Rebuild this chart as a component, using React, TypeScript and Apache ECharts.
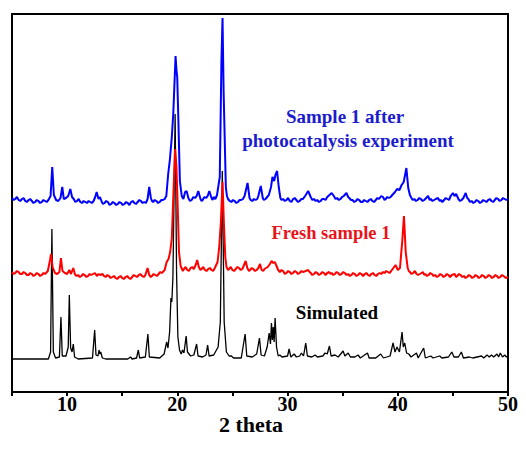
import React, { useEffect, useRef } from "react";
import * as echarts from "echarts";

// 2-theta axis
const xMin = 5;
const xMax = 50;
const xTickLabels = ["10", "20", "30", "40", "50"];

// Traces: [2theta, offset intensity]
const simulated: number[][] = [
  [5.0,33],[8.3,33],[8.5,40],[8.62,163],[8.75,40],[8.95,34],[9.3,35],[9.44,75],[9.56,36],[9.9,36],[10.1,45],[10.2,97],[10.32,44],[10.45,40],[10.56,48],[10.68,35],[11.0,33],[12.3,34],[12.5,62],[12.62,37],[12.8,36],[12.9,42],[12.98,38],[13.05,40],[13.2,34],[13.5,33],[15.5,33],[15.76,35],[15.9,33],[16.3,34],[16.46,42],[16.58,34],[17.1,35],[17.33,58],[17.46,35],[18.4,34],[18.8,38],[19.03,50],[19.15,44],[19.3,60],[19.42,94],[19.5,90],[19.6,115],[19.8,278],[19.93,120],[20.05,55],[20.2,42],[20.35,38],[20.47,42],[20.6,39],[20.8,56],[20.92,40],[21.2,36],[21.5,37],[21.75,48],[21.88,36],[22.3,35],[22.6,37],[22.75,47],[22.88,36],[23.3,37],[23.7,45],[23.9,70],[24.08,221],[24.25,70],[24.45,40],[24.7,36],[24.9,36],[25.1,34],[25.8,34],[26.15,58],[26.3,36],[26.8,35],[27.2,38],[27.45,54],[27.6,37],[27.9,36],[28.15,45],[28.33,59],[28.45,48],[28.54,69],[28.62,52],[28.7,65],[28.78,50],[28.87,74],[29.0,45],[29.15,36],[29.3,37],[29.5,35],[30.0,36],[30.14,43],[30.3,35],[30.6,38],[30.8,35],[31.1,36],[31.26,39],[31.45,36],[31.65,49],[31.8,36],[32.2,35],[32.5,37],[32.7,35],[33.2,36],[33.4,39],[33.6,38],[33.8,46],[33.95,36],[34.3,37],[34.6,35],[35.04,41],[35.2,36],[35.5,39],[35.7,35],[36.1,35],[36.4,37],[36.6,34],[37.25,39],[37.4,34],[38.0,34],[38.45,38],[38.7,34],[39.3,36],[39.57,49],[39.75,40],[39.93,45],[40.15,40],[40.39,60],[40.5,45],[40.63,49],[40.8,39],[41.0,38],[41.2,35],[41.7,39],[41.85,34],[42.35,44],[42.5,34],[43.0,36],[43.2,34],[43.8,36],[44.0,34],[44.6,35],[44.9,40],[45.1,35],[45.5,35],[45.77,40],[45.95,34],[46.5,35],[46.8,34],[47.6,36],[47.8,34],[48.1,37],[48.3,35],[48.5,37],[48.7,35],[49.0,38],[49.15,35],[49.3,39],[49.5,35],[49.7,37],[49.85,35],[50.0,36]
];

const fresh: number[][] = [
  [5.0,120],[5.15,118],[5.3,119],[5.45,121],[5.6,120],[5.75,118],[5.9,118],[6.05,120],[6.2,119],[6.35,117],[6.5,117],[6.65,119],[6.8,118],[6.95,116],[7.1,117],[7.25,119],[7.4,118],[7.55,116],[7.7,117],[7.85,119],[8.0,118],[8.25,121],[8.45,132],[8.54,138],[8.68,125],[8.9,119],[9.1,118],[9.3,120],[9.44,134],[9.58,121],[9.8,119],[10.0,118],[10.2,122],[10.35,118],[10.56,124],[10.7,118],[10.85,116],[11.0,117],[11.15,115],[11.3,116],[11.45,118],[11.6,117],[11.75,115],[11.9,116],[12.05,118],[12.2,117],[12.52,119],[12.7,116],[12.85,118],[13.0,117],[13.2,118],[13.35,116],[13.5,115],[13.65,117],[13.8,116],[13.95,114],[14.1,115],[14.25,116],[14.4,114],[14.55,113],[14.7,115],[14.85,116],[15.0,114],[15.15,113],[15.3,115],[15.45,116],[15.6,114],[15.75,113],[15.9,115],[16.05,117],[16.2,116],[16.35,115],[16.5,117],[16.65,118],[16.8,116],[16.95,115],[17.1,117],[17.3,124],[17.45,117],[17.6,115],[17.7,116],[17.85,118],[18.0,117],[18.15,116],[18.3,118],[18.45,120],[18.6,119],[18.85,122],[19.03,130],[19.2,133],[19.35,140],[19.5,154],[19.65,200],[19.8,243],[19.92,225],[20.02,190],[20.15,140],[20.3,126],[20.38,124],[20.5,121],[20.6,123],[20.75,125],[20.9,122],[21.05,121],[21.2,124],[21.35,125],[21.5,123],[21.7,128],[21.8,132],[21.95,125],[22.1,122],[22.2,123],[22.35,125],[22.5,122],[22.65,121],[22.8,123],[22.95,124],[23.1,122],[23.25,121],[23.4,124],[23.65,130],[23.8,145],[23.95,170],[24.1,210],[24.22,170],[24.35,135],[24.46,125],[24.6,122],[24.7,123],[24.85,125],[25.0,122],[25.15,121],[25.3,123],[25.45,125],[25.6,124],[25.75,122],[25.9,123],[26.05,127],[26.2,131],[26.35,124],[26.5,121],[26.6,122],[26.75,124],[26.9,123],[27.05,121],[27.2,122],[27.35,124],[27.5,128],[27.65,122],[27.8,121],[27.9,123],[28.05,124],[28.2,125],[28.4,128],[28.55,131],[28.7,129],[28.84,130],[29.0,126],[29.15,122],[29.3,120],[29.45,122],[29.6,121],[29.75,118],[29.9,119],[30.05,121],[30.2,120],[30.35,118],[30.5,119],[30.65,121],[30.8,120],[30.95,118],[31.1,119],[31.25,121],[31.4,120],[31.65,121],[31.87,122],[32.0,120],[32.1,119],[32.25,117],[32.4,118],[32.55,120],[32.7,119],[32.85,117],[33.0,118],[33.15,120],[33.3,119],[33.45,117],[33.6,119],[33.77,120],[33.9,118],[34.0,119],[34.15,117],[34.3,118],[34.45,120],[34.6,119],[34.75,117],[34.9,118],[35.05,120],[35.2,119],[35.35,117],[35.5,118],[35.65,116],[35.8,117],[35.95,119],[36.1,118],[36.25,116],[36.4,117],[36.55,119],[36.7,118],[36.85,116],[37.0,118],[37.15,119],[37.3,117],[37.45,116],[37.6,118],[37.75,119],[37.9,117],[38.05,116],[38.2,118],[38.35,119],[38.5,118],[38.65,120],[38.8,119],[38.95,121],[39.1,120],[39.25,119],[39.4,121],[39.6,124],[39.8,127],[40.0,122],[40.2,124],[40.4,150],[40.56,176],[40.72,140],[40.9,124],[41.0,121],[41.1,120],[41.25,118],[41.4,119],[41.55,121],[41.7,118],[41.85,117],[42.0,118],[42.15,119],[42.29,120],[42.4,117],[42.5,118],[42.65,116],[42.8,117],[42.95,119],[43.1,118],[43.25,116],[43.4,117],[43.55,115],[43.7,116],[43.85,118],[44.0,117],[44.15,115],[44.3,116],[44.45,118],[44.6,117],[44.75,115],[44.9,117],[45.16,118],[45.3,115],[45.4,116],[45.55,118],[45.7,117],[45.85,115],[46.0,116],[46.15,114],[46.3,115],[46.45,117],[46.6,116],[46.75,114],[46.9,115],[47.05,117],[47.2,116],[47.35,114],[47.5,115],[47.65,117],[47.8,116],[47.95,114],[48.1,115],[48.25,117],[48.4,116],[48.55,114],[48.7,115],[48.85,117],[49.0,116],[49.15,114],[49.3,115],[49.45,117],[49.6,116],[49.8,114],[50.0,115]
];

const afterPhoto: number[][] = [
  [5.0,194],[5.15,192],[5.3,193],[5.45,195],[5.6,192],[5.75,191],[5.9,193],[6.05,194],[6.2,191],[6.35,190],[6.5,192],[6.65,193],[6.8,191],[6.95,189],[7.1,190],[7.25,192],[7.4,191],[7.55,189],[7.7,190],[7.85,192],[8.0,191],[8.15,190],[8.3,192],[8.5,196],[8.65,225],[8.8,197],[9.0,192],[9.2,191],[9.4,194],[9.56,205],[9.7,193],[9.9,194],[10.1,196],[10.29,203],[10.45,195],[10.6,193],[10.75,190],[10.9,191],[11.05,193],[11.2,190],[11.35,189],[11.5,191],[11.65,190],[11.8,189],[11.95,191],[12.1,190],[12.25,189],[12.4,191],[12.55,195],[12.68,200],[12.85,193],[12.98,195],[13.15,190],[13.25,188],[13.4,189],[13.55,191],[13.7,190],[13.85,187],[14.0,188],[14.15,190],[14.3,189],[14.45,187],[14.6,188],[14.75,190],[14.9,189],[15.05,187],[15.2,188],[15.35,190],[15.5,189],[15.65,187],[15.8,190],[15.95,191],[16.1,189],[16.25,188],[16.4,190],[16.55,192],[16.7,191],[16.85,189],[17.0,190],[17.15,189],[17.3,193],[17.45,205],[17.6,194],[17.7,191],[17.8,190],[17.95,192],[18.1,191],[18.25,189],[18.4,190],[18.55,192],[18.7,192],[18.85,193],[19.0,196],[19.17,218],[19.32,232],[19.5,255],[19.63,278],[19.84,336],[19.92,322],[19.99,315],[20.08,278],[20.23,211],[20.4,196],[20.55,193],[20.7,200],[20.84,201],[21.0,194],[21.15,191],[21.3,192],[21.45,195],[21.6,194],[21.75,196],[21.9,201],[22.1,193],[22.2,191],[22.3,192],[22.45,195],[22.6,194],[22.75,196],[22.9,201],[23.1,194],[23.2,192],[23.3,195],[23.45,193],[23.6,197],[23.85,215],[24.0,330],[24.1,374],[24.2,300],[24.4,205],[24.5,196],[24.6,193],[24.75,191],[24.9,190],[25.05,192],[25.2,191],[25.35,189],[25.5,190],[25.65,192],[25.8,192],[25.95,193],[26.1,196],[26.37,209],[26.55,194],[26.65,192],[26.8,191],[26.95,193],[27.1,192],[27.25,193],[27.35,196],[27.57,206],[27.75,194],[27.85,192],[28.0,193],[28.15,195],[28.3,197],[28.5,205],[28.63,215],[28.78,211],[28.9,217],[29.05,221],[29.2,205],[29.35,194],[29.45,192],[29.6,193],[29.75,191],[29.9,192],[30.05,194],[30.2,191],[30.35,190],[30.5,193],[30.65,194],[30.8,192],[30.95,190],[31.1,191],[31.25,193],[31.4,193],[31.65,197],[31.87,201],[32.1,195],[32.25,192],[32.4,193],[32.55,191],[32.7,192],[32.85,190],[33.0,191],[33.15,193],[33.3,193],[33.45,192],[33.6,195],[33.8,197],[34.0,199],[34.2,196],[34.35,193],[34.5,194],[34.65,192],[34.8,193],[34.95,195],[35.1,196],[35.34,199],[35.5,195],[35.6,194],[35.75,192],[35.9,192],[36.05,190],[36.2,191],[36.35,193],[36.5,192],[36.65,190],[36.8,190],[36.95,192],[37.1,191],[37.25,190],[37.4,192],[37.55,193],[37.7,191],[37.85,190],[38.0,192],[38.15,194],[38.3,193],[38.5,196],[38.66,195],[38.8,192],[38.9,193],[39.05,195],[39.2,194],[39.35,195],[39.5,197],[39.75,200],[39.93,203],[40.15,202],[40.35,207],[40.54,210],[40.78,224],[40.95,204],[41.1,197],[41.24,194],[41.35,192],[41.5,193],[41.65,191],[41.8,192],[41.95,194],[42.1,193],[42.25,191],[42.4,192],[42.75,196],[42.9,192],[43.0,193],[43.15,191],[43.3,192],[43.45,193],[43.65,194],[43.8,191],[43.9,192],[44.05,190],[44.2,192],[44.35,194],[44.5,193],[44.65,192],[44.8,196],[45.0,199],[45.15,196],[45.3,198],[45.5,193],[45.65,191],[45.8,192],[45.95,194],[46.16,199],[46.3,194],[46.4,193],[46.55,190],[46.7,191],[46.85,189],[47.0,190],[47.15,192],[47.3,191],[47.45,189],[47.6,190],[47.75,192],[47.9,191],[48.05,190],[48.2,192],[48.35,193],[48.5,191],[48.65,190],[48.8,192],[48.95,194],[49.1,193],[49.25,191],[49.4,192],[49.55,194],[49.7,193],[49.85,192],[50.0,193]
];

const SERIF = "'Times New Roman', 'Liberation Serif', serif";

export default function App() {
  const ref = useRef<HTMLDivElement>(null);
  useEffect(() => {
    if (!ref.current) return;
    const chart = echarts.init(ref.current, null, { renderer: "svg" });
    chart.setOption({
      animation: false,
      backgroundColor: "#ffffff",
      grid: {
        left: 12,
        right: 18,
        top: 14,
        bottom: 60,
        show: true,
        borderColor: "#000",
        borderWidth: 2,
      },
      xAxis: {
        type: "value",
        min: xMin,
        max: xMax,
        interval: 5,
        axisLine: { show: true, lineStyle: { color: "#000", width: 2 } },
        axisTick: { show: true, length: 4, lineStyle: { color: "#000", width: 2 } },
        splitLine: { show: false },
        axisLabel: {
          margin: 2,
          color: "#000",
          fontFamily: SERIF,
          fontWeight: "bold",
          fontSize: 20,
          formatter: (v: number) => (xTickLabels.includes(String(v)) ? String(v) : ""),
        },
      },
      yAxis: {
        type: "value",
        min: 0,
        max: 378,
        show: false,
      },
      series: [
        {
          type: "line",
          data: simulated,
          symbol: "none",
          lineStyle: { color: "#000", width: 1.3 },
        },
        {
          type: "line",
          data: fresh,
          symbol: "none",
          lineStyle: { color: "#ff0000", width: 2 },
        },
        {
          type: "line",
          data: afterPhoto,
          symbol: "none",
          lineStyle: { color: "#0000ff", width: 2 },
        },
      ],
      graphic: [
        {
          type: "text",
          x: 345,
          y: 116,
          style: {
            text: "Sample 1 after",
            fill: "#1c1ccc",
            font: `bold 19px ${SERIF}`,
            textAlign: "center",
            textVerticalAlign: "middle",
          },
        },
        {
          type: "text",
          x: 348,
          y: 140,
          style: {
            text: "photocatalysis experiment",
            fill: "#1c1ccc",
            font: `bold 19px ${SERIF}`,
            textAlign: "center",
            textVerticalAlign: "middle",
          },
        },
        {
          type: "text",
          x: 331,
          y: 233,
          style: {
            text: "Fresh sample 1",
            fill: "#e8141b",
            font: `bold 18.5px ${SERIF}`,
            textAlign: "center",
            textVerticalAlign: "middle",
          },
        },
        {
          type: "text",
          x: 337,
          y: 312,
          style: {
            text: "Simulated",
            fill: "#000",
            font: `bold 19px ${SERIF}`,
            textAlign: "center",
            textVerticalAlign: "middle",
          },
        },
        {
          type: "text",
          x: 251,
          y: 424,
          style: {
            text: "2 theta",
            fill: "#000",
            font: `bold 22px ${SERIF}`,
            textAlign: "center",
            textVerticalAlign: "middle",
          },
        },
      ],
    });
    return () => chart.dispose();
  }, []);
  return (
    <div
      ref={ref}
      style={{ position: "fixed", left: 0, top: 0, width: 526, height: 452 }}
    />
  );
}
